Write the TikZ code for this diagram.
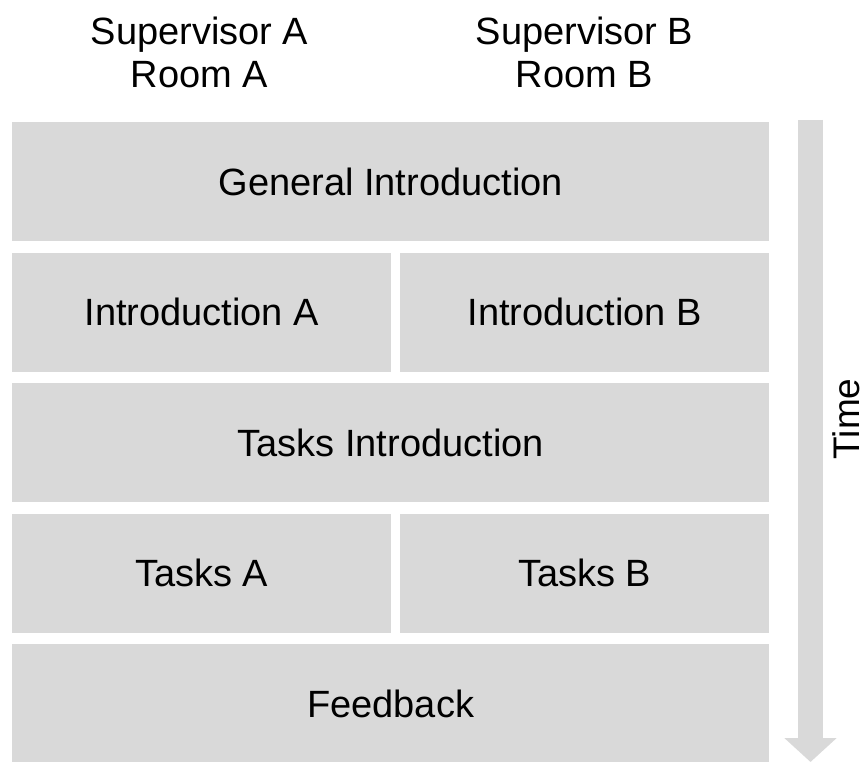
\documentclass[tikz,border=0pt]{standalone}
\usepackage{fontspec}
\setmainfont{Liberation Sans}
\usetikzlibrary{arrows.meta}

\begin{document}
\begin{tikzpicture}[
  x=1pt, y=-1pt,
  font=\fontsize{38}{43}\selectfont,
  block/.style={
    fill=gray!30, anchor=north west, inner sep=0pt,
    minimum height=119pt
  },
  full/.style={block, minimum width=757pt},
  half/.style={block, minimum width=379pt},
  halfr/.style={block, minimum width=369pt},
  head/.style={align=center},
  timearrow/.style={line width=25pt, draw=gray!30,
    -{Triangle[width=51pt, length=24pt]}},
]
  \useasboundingbox (0,0) rectangle (864,762);

  % --- Column headings ---
  \node[head] (supA) at (199.5, 52) {Supervisor A\\Room A};
  \node[head] (supB) at (584.5, 52) {Supervisor B\\Room B};

  % --- Schedule blocks ---
  \node[full]  (genintro)  at (12, 122)   {General Introduction};
  \node[half]  (introA)    at (12, 252.5) {Introduction A};
  \node[halfr] (introB)    at (400, 252.5) {Introduction B};
  \node[full]  (tasksintro) at (12, 383) {Tasks Introduction};
  \node[half]  (tasksA)    at (12, 513.5) {Tasks A};
  \node[halfr] (tasksB)    at (400, 513.5) {Tasks B};
  \node[full]  (feedback)  at (12, 644)   {Feedback};

  % --- Time axis ---
  \coordinate (tstart) at (810.5, 120);
  \coordinate (tend) at (810.5, 762);
  \draw[timearrow] (tstart) -- (tend);
  \node[rotate=90, inner sep=0pt, font=\fontsize{37}{43}\selectfont] (time) at (846, 419) {Time};

\end{tikzpicture}
\end{document}
